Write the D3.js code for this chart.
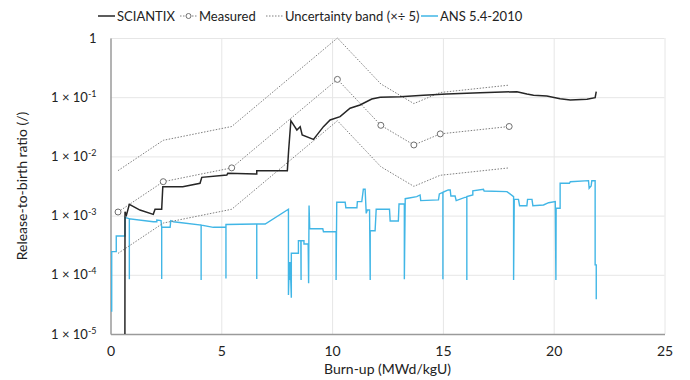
<!DOCTYPE html>
<html>
<head>
<meta charset="utf-8">
<script src="https://cdn.jsdelivr.net/npm/d3@7"></script>
<style>
  html, body { margin: 0; padding: 0; background: #fff; }
  svg { display: block; font-family: Lato, "Noto Sans", sans-serif; }
</style>
</head>
<body>
<svg id="chart" width="690" height="380"></svg>
<script>
// ---------------- DATA ----------------
const xTicks = [0, 5, 10, 15, 20, 25];
const yTicks = [1, 1e-1, 1e-2, 1e-3, 1e-4, 1e-5];
const yTickExp = [0, -1, -2, -3, -4, -5];

const legendLabels = ["SCIANTIX", "Measured", "Uncertainty band (×÷ 5)", "ANS 5.4-2010"];

// SCIANTIX
const sciX = [0.65, 0.655, 0.72, 0.85, 1.33, 1.93, 2.01, 2.31, 2.36, 3.26, 4.04, 4.12, 5.25, 5.29, 6.6, 6.6, 7.98, 8.04, 8.14, 8.41, 8.56, 8.65, 9.16, 9.61, 9.91, 10.36, 10.81, 11.26, 11.79, 12.17, 13.07, 14.12, 15.18, 16.68, 18.34, 18.79, 19.09, 19.69, 20.29, 20.75, 21.5, 21.87, 21.92];
const sciY = [1e-5, 1.16e-3, 1.02e-3, 1.55e-3, 1.24e-3, 1.05e-3, 1.28e-3, 1.28e-3, 3.08e-3, 3.08e-3, 3.51e-3, 4.43e-3, 4.85e-3, 5.18e-3, 5.04e-3, 5.75e-3, 5.75e-3, 0.0128, 0.0401, 0.0279, 0.0318, 0.023, 0.0194, 0.0318, 0.0412, 0.0469, 0.065, 0.0738, 0.093, 0.0996, 0.102, 0.1076, 0.113, 0.119, 0.124, 0.113, 0.1076, 0.105, 0.0944, 0.0897, 0.0922, 0.098, 0.124];

// Measured
const measX = [0.34, 2.38, 5.47, 10.24, 12.2, 13.69, 14.88, 17.99];
const measY = [1.15e-3, 3.74e-3, 6.4e-3, 0.2, 0.0335, 0.0156, 0.024, 0.032];

// Uncertainty band (x / ÷ 5)
const bandUpper = [5.75e-3, 1.87e-2, 3.2e-2, 1.0, 0.1675, 0.078, 0.12, 0.16];
const bandLower = [2.3e-4, 7.48e-4, 1.28e-3, 0.04, 6.7e-3, 3.12e-3, 4.8e-3, 6.4e-3];

// ANS 5.4-2010
const ansX = [0.054, 0.054, 0.26, 0.26, 0.655, 0.655, 0.85, 0.85, 0.85, 1.93, 2.09, 2.09, 2.28, 2.31, 2.31, 2.31, 2.69, 2.72, 2.84, 4.09, 4.09, 4.09, 4.64, 5.21, 5.21, 5.21, 6.6, 6.6, 6.6, 6.98, 8.03,
  8.03, 8.07, 8.09, 8.11, 8.16, 8.16, 8.48, 8.48, 8.59, 8.6, 8.6, 8.73, 8.73, 8.92, 8.94, 8.96, 8.99, 9.58, 9.61, 10.18, 10.18, 10.21, 10.59, 10.62, 11.12, 11.14, 11.34, 11.41, 11.49, 11.54, 11.59, 11.69, 11.72, 11.72, 11.94, 11.99, 12.59, 12.62, 12.99, 13.02, 13.26, 13.26, 13.3, 13.82, 13.97, 14.0, 14.8, 14.84, 15.0, 15.0, 15.0, 15.24, 15.33, 15.36, 15.55, 15.6, 16.08, 16.08, 16.08, 16.35, 16.35, 16.83, 16.86, 17.89, 18.19, 18.19, 18.22, 18.41, 18.46, 18.79, 18.82, 19.02, 19.06, 19.54, 19.77, 20.07, 20.1, 20.11, 20.29, 20.29, 20.71, 20.75, 21.57, 21.6, 21.69, 21.72, 21.87, 21.87, 21.92, 21.92];
const ansY = [2.38e-5, 2.46e-4, 2.46e-4, 4.52e-4, 4.52e-4, 9.29e-4, 8.87e-4, 8.4e-5, 8.87e-4, 7.88e-4, 7.88e-4, 8.43e-4, 8.26e-4, 6.34e-4, 8.5e-5, 6.34e-4, 6.34e-4, 8.2e-4, 7.88e-4, 6.93e-4, 8.2e-5, 6.93e-4, 6.34e-4, 6.34e-4, 8.7e-5, 7.07e-4, 7.21e-4, 8.5e-5, 7.21e-4, 7.21e-4, 1.28e-3,
  4.55e-5, 1.65e-4, 8.2e-5, 1.65e-4, 4.1e-5, 2.31e-4, 2.31e-4, 3.77e-4, 3.77e-4, 8.2e-5, 3.77e-4, 3.77e-4, 3.31e-4, 3.31e-4, 7.2e-5, 1.48e-3, 6.0e-4, 6.0e-4, 5.35e-4, 5.35e-4, 8.2e-5, 1.68e-3, 1.68e-3, 1.36e-3, 1.36e-3, 1.72e-3, 1.72e-3, 2.78e-3, 2.78e-3, 1.09e-3, 1.24e-3, 1.24e-3, 8.2e-5, 5.56e-4, 5.56e-4, 1.28e-3, 1.28e-3, 8.1e-4, 8.1e-4, 1.57e-3, 1.57e-3, 8.4e-5, 1.93e-3, 2.09e-3, 2.23e-3, 1.79e-3, 1.84e-3, 2.32e-3, 2.48e-3, 8.4e-5, 2.48e-3, 2.71e-3, 2.71e-3, 2.14e-3, 2.14e-3, 1.79e-3, 2.09e-3, 8.2e-5, 2.09e-3, 2.23e-3, 2.63e-3, 2.78e-3, 2.6e-3, 2.54e-3, 2.09e-3, 8.2e-5, 1.88e-3, 1.88e-3, 1.47e-3, 1.47e-3, 1.88e-3, 1.88e-3, 1.47e-3, 1.51e-3, 1.65e-3, 1.72e-3, 8.2e-5, 1.33e-3, 1.33e-3, 3.51e-3, 3.51e-3, 3.74e-3, 3.89e-3, 2.89e-3, 3.16e-3, 3.89e-3, 3.89e-3, 1.47e-4, 1.47e-4, 3.86e-5];

// ---------------- CHART ----------------
const svg = d3.select("#chart");
const W = 690, H = 380;
const m = { left: 110.5, right: 25.5, top: 38, bottom: 46 };
const x = d3.scaleLinear().domain([0, 25]).range([m.left, W - m.right]);
const y = d3.scaleLog().domain([1e-5, 1]).range([H - m.bottom, m.top]);

const colSci = "#262626", colMeas = "#7f7f7f", colAns = "#41b6e6";

// gridlines
const grid = svg.append("g").attr("class", "grid");
grid.append("g")
  .attr("transform", `translate(0,${H - m.bottom})`)
  .call(d3.axisBottom(x).tickValues(xTicks.slice(1)).tickSize(-(H - m.bottom - m.top)).tickFormat(""))
  .call(g => g.select(".domain").remove())
  .call(g => g.selectAll("line").attr("stroke", "#e6e6e6").attr("stroke-width", 1));
grid.append("g")
  .attr("transform", `translate(${m.left},0)`)
  .call(d3.axisLeft(y).tickValues(yTicks.slice(0, 5)).tickSize(-(W - m.right - m.left)).tickFormat(""))
  .call(g => g.select(".domain").remove())
  .call(g => g.selectAll("line").attr("stroke", "#e6e6e6").attr("stroke-width", 1));

// axes
const xAxis = svg.append("g")
  .attr("transform", `translate(0,${H - m.bottom})`)
  .call(d3.axisBottom(x).tickValues(xTicks).tickSize(0).tickPadding(12.5).tickFormat(d3.format("d")));
xAxis.select(".domain").attr("stroke", "#9a9a9a").attr("stroke-width", 1.5);
xAxis.selectAll("text").attr("font-size", 14).attr("fill", "#222").attr("font-family", "Lato, sans-serif");

const yAxis = svg.append("g")
  .attr("transform", `translate(${m.left},0)`)
  .call(d3.axisLeft(y).tickValues(yTicks).tickSize(0).tickPadding(14).tickFormat(""));
yAxis.select(".domain").attr("stroke", "#9a9a9a").attr("stroke-width", 1.5);
yAxis.selectAll(".tick text").each(function (d, i) {
  const t = d3.select(this).attr("font-size", 13).attr("fill", "#222").attr("font-family", "Lato, sans-serif");
  const e = yTickExp[yTicks.indexOf(d)];
  if (e === 0) { t.text("1"); return; }
  t.append("tspan").text("1 × 10");
  t.append("tspan").attr("font-size", 9).attr("dy", -5).text(String(e));
});

// axis titles
svg.append("text").attr("x", x(12.5)).attr("y", 374).attr("text-anchor", "middle")
  .attr("font-size", 14).attr("fill", "#222").text("Burn-up (MWd/kgU)");
svg.append("text").attr("transform", `translate(27,${(m.top + H - m.bottom) / 2}) rotate(-90)`)
  .attr("text-anchor", "middle").attr("font-size", 14).attr("fill", "#222").text("Release-to-birth ratio (/)");

svg.append("defs").append("clipPath").attr("id", "clip")
  .append("rect").attr("x", m.left).attr("y", m.top - 2).attr("width", W - m.right - m.left).attr("height", H - m.bottom - m.top + 2);

const plot = svg.append("g").attr("clip-path", "url(#clip)");
const line = d3.line().x(d => x(d[0])).y(d => y(d[1]));

// ANS
plot.append("path").datum(ansX.map((v, i) => [v, ansY[i]]))
  .attr("fill", "none").attr("stroke", colAns).attr("stroke-width", 1.4).attr("d", line);

// band
[bandUpper, bandLower].forEach(arr => {
  plot.append("path").datum(measX.map((v, i) => [v, arr[i]]))
    .attr("fill", "none").attr("stroke", colMeas).attr("stroke-width", 1)
    .attr("stroke-dasharray", "1.5,1.5").attr("d", line);
});

// measured line
plot.append("path").datum(measX.map((v, i) => [v, measY[i]]))
  .attr("fill", "none").attr("stroke", colMeas).attr("stroke-width", 1)
  .attr("stroke-dasharray", "1.5,1.5").attr("d", line);

// SCIANTIX
plot.append("path").datum(sciX.map((v, i) => [v, sciY[i]]))
  .attr("fill", "none").attr("stroke", colSci).attr("stroke-width", 1.5).attr("d", line);

// measured markers
plot.selectAll("circle.meas").data(measX.map((v, i) => [v, measY[i]])).join("circle")
  .attr("class", "meas").attr("cx", d => x(d[0])).attr("cy", d => y(d[1])).attr("r", 3)
  .attr("fill", "#fff").attr("stroke", "#6f6f6f").attr("stroke-width", 1);

// legend
const legX = [98, 180, 266, 421];
const lg = svg.append("g").attr("font-size", 13).attr("fill", "#222");
legendLabels.forEach((lab, i) => {
  const g = lg.append("g").attr("transform", `translate(${legX[i]},16)`);
  const ln = g.append("line").attr("x1", 0).attr("x2", 17).attr("y1", 0).attr("y2", 0);
  if (i === 0) ln.attr("stroke", colSci).attr("stroke-width", 1.5);
  else if (i === 3) ln.attr("stroke", colAns).attr("stroke-width", 1.5);
  else ln.attr("stroke", colMeas).attr("stroke-width", 1).attr("stroke-dasharray", "1.5,1.5");
  if (i === 1) g.append("circle").attr("cx", 8.5).attr("cy", 0).attr("r", 2.5).attr("fill", "#fff").attr("stroke", "#6f6f6f");
  g.append("text").attr("x", 19).attr("y", 4.5).text(lab);
});
</script>
</body>
</html>
